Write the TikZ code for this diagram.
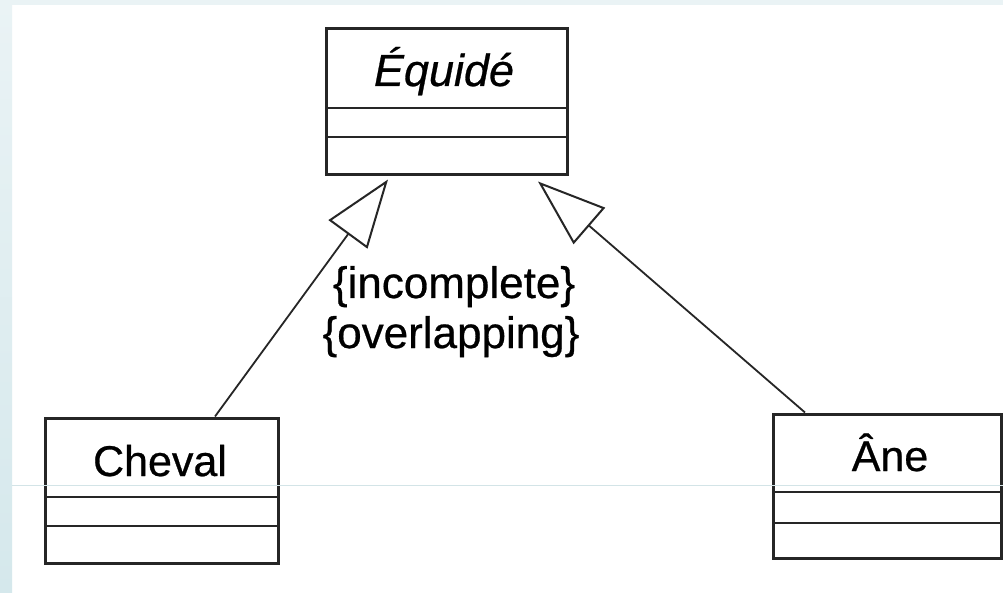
\documentclass[tikz,border=0pt]{standalone}
\usepackage{fontspec}
\setmainfont{Liberation Sans}[FakeBold=0.6]
\usetikzlibrary{arrows.meta}
\definecolor{ink}{HTML}{262626}
\definecolor{stripe}{HTML}{EAF3F5}
\definecolor{stripedark}{HTML}{D5E8EC}
\definecolor{hairline}{HTML}{D3E4E7}
\begin{document}
\begin{tikzpicture}[x=1pt,y=-1pt,
  classbox/.style={draw=ink, line width=3pt, fill=none, inner sep=0pt},
  compart/.style={draw=ink, line width=2.8pt},
  classname/.style={font=\fontsize{43}{48}\selectfont, anchor=base, inner sep=0pt},
  constraint/.style={font=\fontsize{44}{50}\selectfont, anchor=base, inner sep=0pt},
  generalize/.style={draw=ink, line width=1.8pt,
    -{Triangle[open, length=68pt, width=48pt, line width=2pt]}}]
  \useasboundingbox (0,0) rectangle (1003,593);
  \fill[white] (0,0) rectangle (1003,593);
  % page edge tint
  \fill[stripe] (0,0) rectangle (1003,5);
  \shade[top color=stripe, bottom color=stripedark] (0,0) rectangle (12,593);

  % classes
  \node[classbox, minimum width=241pt, minimum height=146pt] (equide) at (446.5,102) {};
  \node[classbox, minimum width=233pt, minimum height=145pt] (cheval) at (161.5,490.5) {};
  \node[classbox, minimum width=228pt, minimum height=144pt] (ane) at (887,486) {};

  % compartments
  \draw[compart] (326,108) -- (567,108) (326,137) -- (567,137);
  \draw[compart] (45,497) -- (278,497) (45,526) -- (278,526);
  \draw[compart] (773,492) -- (1001,492) (773,523) -- (1001,523);

  % class names
  \node[classname, font=\fontsize{45}{48}\selectfont\itshape] (equidename) at (444,86) {Équidé};
  \node[classname] (chevalname) at (160,476) {Cheval};
  \node[classname] (anename) at (890,471) {Âne};

  % generalization links
  \coordinate (chevaltop) at ([xshift=53.5pt]cheval.north);
  \coordinate (anetop) at ([xshift=-82pt]ane.north);
  \coordinate (tipleft) at ([xshift=-58.5pt, yshift=-3pt]equide.south);
  \coordinate (tipright) at ([xshift=91.5pt, yshift=-5pt]equide.south);
  \draw[generalize] (chevaltop) -- (tipleft);
  \draw[generalize] (anetop) -- (tipright);

  % constraints
  \node[constraint] (incomplete) at (454,298) {\{incomplete\}};
  \node[constraint] (overlapping) at (451,348) {\{overlapping\}};

  % faint scan line
  \draw[hairline, line width=1pt] (12,485) -- (1003,485);
\end{tikzpicture}
\end{document}
